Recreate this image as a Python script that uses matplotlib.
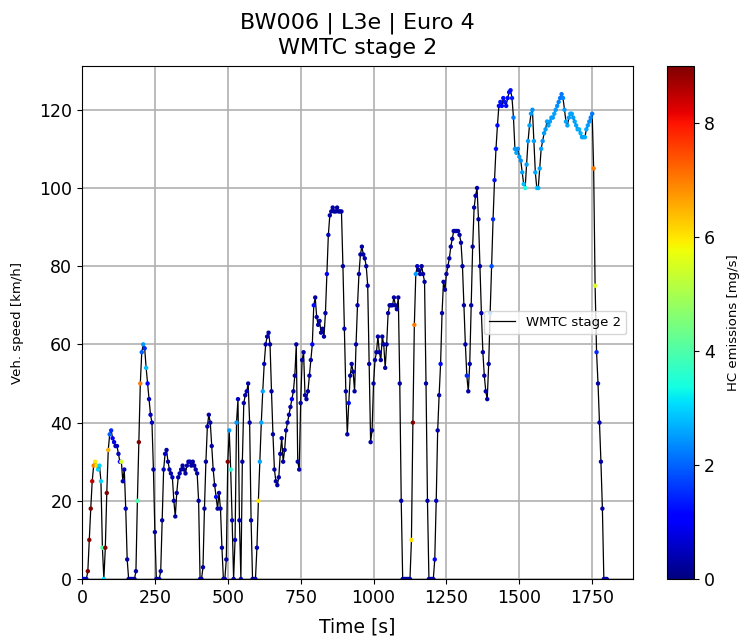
import numpy as np
import matplotlib
matplotlib.use('Agg')
import matplotlib.pyplot as plt

sample_step_s = 5
speed_kmh = [
    # 0 - 95 s
    0, 0, 0, 0, 2, 10, 18, 25, 29, 30, 29, 28, 29, 25, 8, 0, 8, 22, 33, 37,
    # 100 - 195 s
    38, 36, 35, 34, 34, 32, 30, 30, 25, 28, 18, 5, 0, 0, 0, 0, 0, 2, 20, 35,
    # 200 - 295 s
    50, 58, 60, 59, 54, 50, 46, 42, 40, 28, 12, 0, 0, 0, 2, 15, 28, 32, 33, 30,
    # 300 - 395 s
    28, 27, 26, 20, 16, 22, 26, 27, 28, 29, 28, 27, 29, 30, 30, 29, 30, 29, 28, 27,
    # 400 - 495 s
    20, 0, 0, 3, 18, 30, 39, 42, 40, 34, 28, 24, 21, 18, 22, 18, 8, 0, 0, 5,
    # 500 - 595 s
    30, 38, 28, 15, 0, 10, 40, 46, 15, 0, 30, 45, 47, 48, 50, 40, 15, 0, 0, 0,
    # 600 - 695 s
    8, 20, 30, 40, 48, 55, 60, 62, 63, 60, 48, 37, 28, 25, 24, 26, 32, 36, 30, 33,
    # 700 - 795 s
    38, 40, 42, 44, 46, 48, 52, 60, 30, 28, 45, 56, 58, 47, 46, 48, 52, 56, 60, 70,
    # 800 - 895 s
    72, 67, 65, 66, 63, 64, 62, 68, 78, 88, 93, 94, 95, 94, 94, 95, 94, 94, 94, 80,
    # 900 - 995 s
    64, 48, 37, 45, 52, 55, 53, 48, 60, 70, 78, 83, 85, 83, 82, 80, 75, 55, 35, 38,
    # 1000 - 1095 s
    50, 56, 58, 62, 58, 56, 62, 60, 54, 60, 68, 70, 70, 70, 72, 70, 69, 72, 50, 20,
    # 1100 - 1195 s
    0, 0, 0, 0, 0, 0, 10, 40, 65, 78, 80, 79, 78, 80, 78, 76, 50, 20, 0, 0,
    # 1200 - 1295 s
    0, 0, 5, 20, 38, 47, 55, 68, 76, 74, 78, 80, 82, 85, 87, 89, 89, 89, 89, 88,
    # 1300 - 1395 s
    86, 80, 70, 60, 52, 48, 55, 70, 85, 95, 98, 100, 92, 80, 68, 58, 52, 48, 46, 55,
    # 1400 - 1495 s
    68, 80, 92, 102, 110, 116, 121, 122, 121, 123, 122, 121, 123, 124.5, 125, 123, 118, 110, 109, 110,
    # 1500 - 1595 s
    108, 107, 104, 101, 100, 106, 112, 116, 119, 120, 112, 104, 100, 100, 105, 110, 112, 114, 115, 117,
    # 1600 - 1695 s
    116, 117, 118, 118, 119, 120, 121, 122, 123, 124, 123, 120, 117, 116, 118, 119, 119, 118, 117, 116,
    # 1700 - 1795 s
    115, 115, 114, 113, 113, 113, 115, 116, 117, 118, 119, 105, 75, 58, 50, 40, 30, 18, 0, 0,
    # 1800 s
    0,
]

# HC emissions at the same samples [mg/s]
hc_mg_s = [
    0.5, 0.5, 0.5, 0.5, 9, 9, 9, 8.5, 7, 6, 6, 3, 3, 3, 4, 3, 9, 9, 6.5, 2,
    1.5, 1, 0.8, 0.5, 0.5, 0.5, 1, 5.5, 0.5, 0.5, 0.5, 0.3, 0.3, 0.3, 0.3, 0.3, 0.3, 0.3, 4, 9,
    7, 2, 2.5, 1.5, 2.8, 1, 0.5, 0.5, 0.5, 0.3, 0.3, 0.3, 0.3, 0.3, 0.3, 0.3, 0.5, 0.5, 0.3, 0.3,
    0.3, 0.3, 0.5, 0.3, 0.3, 0.3, 0.3, 0.5, 0.3, 0.3, 0.3, 0.3, 0.3, 0.3, 0.5, 0.3, 0.3, 0.3, 0.3, 0.3,
    0.3, 0.3, 0.3, 0.3, 0.3, 0.3, 0.3, 0.3, 0.3, 0.3, 0.3, 0.3, 1.2, 0.3, 0.3, 0.3, 0.3, 0.3, 0.3, 0.3,
    9, 2.5, 3.5, 0.5, 0.3, 0.5, 2.5, 0.5, 0.3, 0.3, 0.3, 0.3, 0.3, 0.5, 0.3, 0.3, 0.3, 0.3, 0.3, 0.3,
    0.5, 6, 2.6, 2.6, 2.6, 0.5, 0.3, 0.3, 0.3, 0.3, 0.3, 0.3, 0.3, 0.3, 0.3, 0.3, 0.3, 0.3, 0.3, 0.3,
    0.3, 0.3, 0.3, 0.3, 1.0, 0.3, 0.3, 0.3, 0.3, 0.3, 0.3, 0.3, 0.3, 0.3, 0.3, 0.3, 0.3, 0.3, 1.0, 1.2,
    0.3, 0.3, 0.3, 0.3, 0.3, 0.3, 0.3, 0.3, 1.0, 0.5, 0.3, 0.3, 0.3, 0.3, 0.3, 0.3, 0.3, 0.3, 0.3, 0.3,
    0.5, 0.3, 0.3, 1.2, 0.3, 0.3, 0.3, 0.3, 0.3, 0.3, 0.3, 0.3, 0.3, 0.3, 0.3, 0.3, 0.3, 0.3, 0.3, 0.3,
    0.3, 0.3, 0.3, 0.3, 0.3, 0.3, 0.3, 0.3, 0.3, 0.3, 0.3, 0.3, 0.3, 0.3, 0.3, 0.3, 0.3, 0.3, 0.3, 0.3,
    0.3, 0.3, 0.3, 0.3, 0.3, 0.3, 6, 9, 7, 2.5, 0.5, 0.3, 0.3, 0.3, 0.3, 0.3, 0.3, 0.3, 0.3, 0.3,
    0.3, 0.3, 1.0, 0.5, 0.3, 0.3, 1.2, 0.3, 0.3, 0.3, 0.3, 0.3, 0.3, 0.3, 0.3, 0.3, 0.3, 0.3, 0.3, 0.3,
    0.3, 0.3, 0.3, 0.3, 1.5, 0.3, 0.3, 0.3, 0.3, 0.3, 0.3, 0.3, 0.3, 0.3, 0.3, 0.3, 0.3, 0.3, 0.3, 0.3,
    2.2, 1.8, 1.5, 1.3, 1.2, 1.2, 1.2, 1.3, 1.2, 1.2, 1.3, 1.2, 1.2, 1.3, 1.2, 1.4, 2.2, 2.5, 2.6, 2.4,
    2.5, 2.4, 2.6, 2.8, 3.4, 2.6, 2.5, 2.6, 2.5, 2.4, 2.5, 2.6, 3.0, 2.7, 2.6, 2.5, 2.4, 2.5, 2.5, 2.6,
    2.6, 2.5, 2.6, 2.5, 2.6, 2.5, 2.4, 2.3, 2.2, 2.2, 2.3, 2.5, 2.6, 2.6, 2.5, 2.6, 2.6, 2.5, 2.6, 2.6,
    2.6, 2.7, 2.7, 2.6, 2.6, 2.7, 2.6, 2.5, 2.4, 2.3, 2.2, 7, 5.5, 1.5, 0.3, 0.3, 0.3, 0.3, 0.3, 0.3,
    0.3,
]

time_s = np.arange(len(speed_kmh)) * sample_step_s

fig = plt.figure(figsize=(7.41, 6.41), dpi=100)
ax = fig.add_axes([82 / 741, 62 / 641, 551 / 741, 513 / 641])
cax = fig.add_axes([667 / 741, 62 / 641, 27 / 741, 513 / 641])

ax.plot(time_s, speed_kmh, color='black', lw=0.9, label='WMTC stage 2', zorder=2)
sc = ax.scatter(time_s, speed_kmh, c=hc_mg_s, cmap='jet', vmin=0, vmax=9,
                s=10, linewidths=0, zorder=3)

ax.set_xlim(0, 1890)
ax.set_ylim(0, 131.2)
ax.grid(True, color='#b0b0b0', lw=1.2)
ax.set_axisbelow(True)
ax.tick_params(labelsize=12.5)
ax.set_xlabel('Time [s]', fontsize=13.5, labelpad=8)
ax.set_ylabel('Veh. speed [km/h]', fontsize=9.5, labelpad=11)
ax.set_title('BW006 | L3e | Euro 4\nWMTC stage 2', fontsize=16, pad=9)
ax.legend(loc='center right', fontsize=9.5)

cb = fig.colorbar(sc, cax=cax)
cb.set_ticks([0, 2, 4, 6, 8])
cb.ax.tick_params(labelsize=12.5)
cb.set_label('HC emissions [mg/s]', fontsize=9.5, labelpad=9)

fig.savefig('out.png', dpi=100)
